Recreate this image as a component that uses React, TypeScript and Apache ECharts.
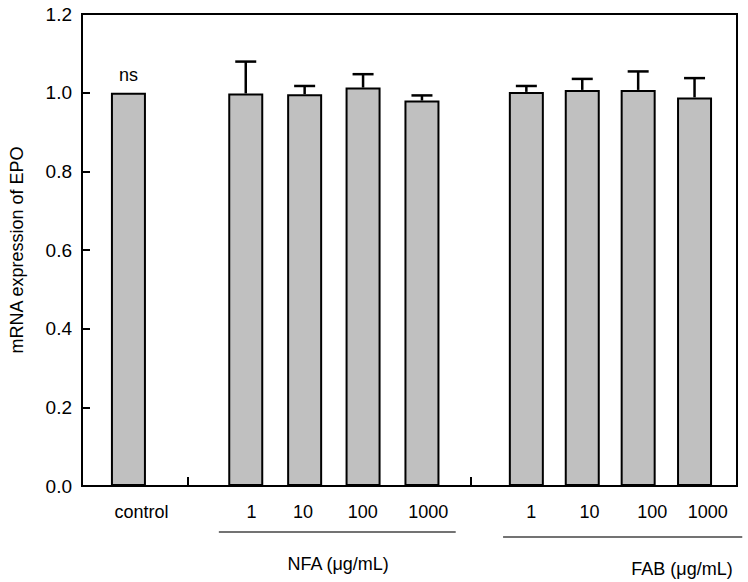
import React, { useEffect, useRef } from "react";
import * as echarts from "echarts";

// Data
const categories = ["control", "1", "10", "100", "1000", "1", "10", "100", "1000"];
const means = [1.0, 0.998, 0.996, 1.013, 0.98, 1.002, 1.007, 1.007, 0.988];
const errors = [0, 0.081, 0.021, 0.034, 0.013, 0.015, 0.028, 0.047, 0.049];
// positions along the x axis (axis units)
const barSlots = [0.794, 2.8, 3.807, 4.806, 5.813, 7.598, 8.554, 9.51, 10.474];
const labelSlots = [1.016, 2.9, 3.78, 4.8, 5.92, 7.68, 8.68, 9.75, 10.7];
const separatorSlots = [1.81, 6.64];
const groupNames = ["NFA (\u03bcg/mL)", "FAB (\u03bcg/mL)"];
const groupLineSpans = [
  [2.34, 6.39],
  [7.2, 11.29],
];
const groupNameSlots = [4.38, 10.26];

const FONT = "'Liberation Sans', Arial, sans-serif";

export default function App() {
  const ref = useRef<HTMLDivElement>(null);
  useEffect(() => {
    if (!ref.current) return;
    const chart = echarts.init(ref.current, null, { renderer: "svg" });
    const barData = means.map((m, i) => ({
      value: [barSlots[i], m],
      label:
        i === 0
          ? {
              show: true,
              position: "top",
              distance: 9,
              formatter: "ns",
              color: "#000",
              fontSize: 18,
              fontFamily: FONT,
            }
          : { show: false },
    }));
    const errData = means
      .map((m, i) => [barSlots[i], m, m + errors[i]])
      .filter((d) => d[2] > d[1]);

    chart.setOption({
      animation: false,
      backgroundColor: "#fff",
      grid: {
        left: 81,
        right: 11,
        top: 14,
        bottom: 96,
        show: true,
        borderColor: "#000",
        borderWidth: 2,
        backgroundColor: "transparent",
      },
      xAxis: {
        type: "value",
        min: 0,
        max: 11.2,
        splitLine: { show: false },
        axisLine: { show: true, lineStyle: { color: "#000", width: 2 } },
        axisTick: {
          show: true,
          inside: true,
          length: 9,
          customValues: separatorSlots,
          lineStyle: { color: "#000", width: 2 },
        },
        axisLabel: {
          show: true,
          customValues: labelSlots,
          margin: 17,
          color: "#000",
          fontSize: 18,
          fontFamily: FONT,
          formatter: (v: number) => {
            let best = 0;
            let bd = Infinity;
            labelSlots.forEach((s, i) => {
              const d = Math.abs(s - v);
              if (d < bd) {
                bd = d;
                best = i;
              }
            });
            return categories[best];
          },
        },
      },
      yAxis: {
        type: "value",
        min: 0,
        max: 1.2,
        interval: 0.2,
        name: "mRNA expression of EPO",
        nameLocation: "middle",
        nameRotate: 90,
        nameGap: 56,
        nameTextStyle: { color: "#000", fontSize: 18, fontFamily: FONT },
        splitLine: { show: false },
        axisLine: { show: true, lineStyle: { color: "#000", width: 2 } },
        axisTick: { show: true, inside: true, length: 8, lineStyle: { color: "#000", width: 2 } },
        axisLabel: {
          margin: 10,
          color: "#000",
          fontSize: 19,
          fontFamily: FONT,
          formatter: (v: number) => v.toFixed(1),
        },
      },
      series: [
        {
          type: "bar",
          data: barData,
          barWidth: 35,
          itemStyle: { color: "#c0c0c0", borderColor: "#000", borderWidth: 2 },
          z: 2,
        },
        {
          type: "custom",
          data: errData,
          z: 3,
          renderItem: (params: any, api: any) => {
            const x = api.value(0);
            const p0 = api.coord([x, api.value(1)]);
            const p1 = api.coord([x, api.value(2)]);
            const style = { stroke: "#000", lineWidth: 2.5 };
            return {
              type: "group",
              children: [
                { type: "line", shape: { x1: p0[0], y1: p0[1], x2: p1[0], y2: p1[1] }, style },
                { type: "line", shape: { x1: p1[0] - 10.5, y1: p1[1], x2: p1[0] + 10.5, y2: p1[1] }, style },
              ],
            };
          },
        },
      ],
    });

    const base = chart.convertToPixel({ yAxisIndex: 0 }, 0) as number;
    const lineOffsets = [46, 51];
    const nameOffsets = [78, 83];
    const graphic: any[] = [];
    groupLineSpans.forEach((span, i) => {
      const xa = chart.convertToPixel({ xAxisIndex: 0 }, span[0]) as number;
      const xb = chart.convertToPixel({ xAxisIndex: 0 }, span[1]) as number;
      graphic.push({
        type: "line",
        shape: { x1: xa, y1: base + lineOffsets[i], x2: xb, y2: base + lineOffsets[i] },
        style: { stroke: "#444", lineWidth: 1.5 },
      });
      const xc = chart.convertToPixel({ xAxisIndex: 0 }, groupNameSlots[i]) as number;
      graphic.push({
        type: "text",
        x: xc,
        y: base + nameOffsets[i],
        style: {
          text: groupNames[i],
          fill: "#000",
          fontSize: 18,
          fontFamily: FONT,
          align: "center",
          verticalAlign: "middle",
        },
      });
    });
    chart.setOption({ graphic });

    return () => chart.dispose();
  }, []);
  return (
    <div
      ref={ref}
      style={{ position: "fixed", left: 0, top: 0, width: 748, height: 582 }}
    />
  );
}
